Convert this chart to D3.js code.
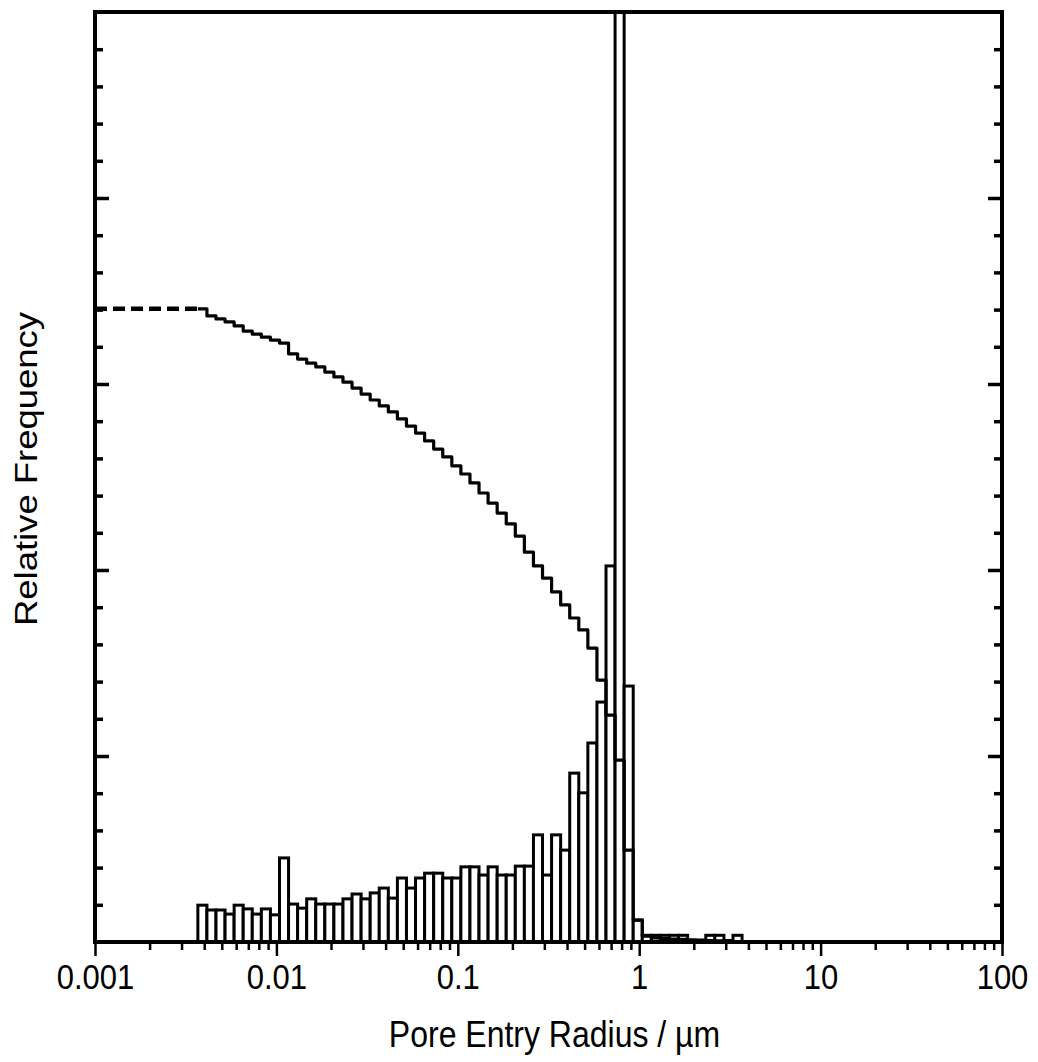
<!DOCTYPE html>
<html>
<head>
<meta charset="utf-8">
<script src="https://cdn.jsdelivr.net/npm/d3@7"></script>
<style>
  html, body { margin: 0; padding: 0; background: #fff; }
  svg { display: block; }
  .tick-label { font-family: "Liberation Sans", Arial, sans-serif; font-size: 31px; fill: #000; }
  .axis-title { font-family: "Liberation Sans", Arial, sans-serif; font-size: 32px; fill: #000; }
</style>
</head>
<body>
<script>
const chartWidth = 1038;
const chartHeight = 1062;

const margin = {
  top: 12,
  right: 36,
  bottom: 120,
  left: 95
};

const plotWidth = chartWidth - margin.left - margin.right;
const plotHeight = chartHeight - margin.top - margin.bottom;

// the scan is a bit taller than wide, text is stretched to match
const textStretch = 1.14;

// histogram bins: log spaced, first bin edge and bins per decade
const firstBinEdge = 0.00369;
const binsPerDecade = 20;

// relative frequency of each bin
const barValues = [
  0.99, 0.86, 0.86, 0.75, 0.99, 0.89, 0.75, 0.89, 0.73, 2.26,
  1.02, 0.91, 1.16, 1.02, 1.02, 1.02, 1.16, 1.29, 1.16, 1.32,
  1.45, 1.18, 1.72, 1.45, 1.72, 1.85, 1.85, 1.72, 1.72, 2.02,
  2.02, 1.80, 2.02, 1.80, 1.80, 2.04, 2.04, 2.88, 1.80, 2.88,
  2.47, 4.54, 4.01, 5.35, 6.45, 10.11, 27.0, 6.88, 0.59, 0.18,
  0.18, 0.18, 0.18, 0.18, 0.04, 0.04, 0.18, 0.18, 0.04, 0.18
];

// cumulative curve at each bin edge
const cumulativeValues = [
  17.02, 16.83, 16.75, 16.67, 16.56, 16.42, 16.34, 16.26, 16.18, 16.10,
  15.81, 15.67, 15.56, 15.46, 15.32, 15.19, 15.05, 14.89, 14.73, 14.57,
  14.41, 14.25, 14.06, 13.87, 13.68, 13.47, 13.25, 13.04, 12.80, 12.58,
  12.34, 12.07, 11.80, 11.53, 11.24, 10.91, 10.48, 10.11, 9.78, 9.41,
  9.06, 8.71, 8.39, 7.90, 7.04, 6.10, 4.89, 2.47, 0.59, 0.16,
  0.11, 0.09, 0.08, 0.07, 0.06, 0.05, 0.04, 0.03, 0.02, 0.01, 0.0
];

const xDomain = [0.001, 100];
const yDomain = [0, 25];
const xTickValues = [0.001, 0.01, 0.1, 1, 10, 100];
const xTickLabels = ['0.001', '0.01', '0.1', '1', '10', '100'];
const yMinorStep = 1;
const yMajorStep = 5;

const xTitle = 'Pore Entry Radius / \u00b5m';
const yTitle = 'Relative Frequency';

const binEdges = d3.range(barValues.length + 1)
  .map(i => firstBinEdge * Math.pow(10, i / binsPerDecade));

const svg = d3.select('body').append('svg')
  .attr('xmlns', 'http://www.w3.org/2000/svg')
  .attr('width', chartWidth)
  .attr('height', chartHeight);

const xScale = d3.scaleLog()
  .domain(xDomain)
  .range([0, plotWidth]);

const yScale = d3.scaleLinear()
  .domain(yDomain)
  .range([plotHeight, 0]);

const container = svg.append('g')
  .attr('transform', `translate(${margin.left},${margin.top})`);

svg.append('defs').append('clipPath')
  .attr('id', 'plot-clip')
  .append('rect')
  .attr('width', plotWidth)
  .attr('height', plotHeight);

// bars
const bars = container.append('g')
  .attr('clip-path', 'url(#plot-clip)');

bars.selectAll('rect')
  .data(barValues)
  .enter().append('rect')
    .attr('x', (d, i) => xScale(binEdges[i]))
    .attr('width', (d, i) => xScale(binEdges[i + 1]) - xScale(binEdges[i]))
    .attr('y', d => yScale(d))
    .attr('height', d => plotHeight - yScale(d))
    .attr('fill', '#fff')
    .attr('stroke', '#000')
    .attr('stroke-width', 3);

// cumulative curve
const curveData = cumulativeValues.map((v, i) => ({ x: binEdges[i], y: v }));

const line = d3.line()
  .x(d => xScale(d.x))
  .y(d => yScale(d.y))
  .curve(d3.curveStepAfter);

container.append('path')
  .attr('d', line(curveData))
  .attr('fill', 'none')
  .attr('stroke', '#000')
  .attr('stroke-width', 3.2)
  .attr('stroke-linejoin', 'round');

container.append('path')
  .attr('d', d3.line().x(d => xScale(d.x)).y(d => yScale(d.y))([
    { x: xDomain[0], y: cumulativeValues[0] },
    { x: binEdges[0], y: cumulativeValues[0] }
  ]))
  .attr('fill', 'none')
  .attr('stroke', '#000')
  .attr('stroke-width', 4.5)
  .attr('stroke-dasharray', '12,6');

// y ticks (inside on both sides, no labels)
const yMinor = d3.range(yDomain[0] + yMinorStep, yDomain[1], yMinorStep).filter(v => v % yMajorStep !== 0);
const yMajor = d3.range(yDomain[0] + yMajorStep, yDomain[1], yMajorStep);

function yTicks(g, axisFn, values, size) {
  g.call(axisFn(yScale).tickValues(values).tickSize(size).tickSizeOuter(0).tickFormat(''))
    .call(s => s.select('.domain').remove())
    .selectAll('line').attr('stroke', '#000').attr('stroke-width', 3.5);
}

container.append('g').call(yTicks, d3.axisRight, yMinor, 8);
container.append('g').call(yTicks, d3.axisRight, yMajor, 14);
container.append('g').attr('transform', `translate(${plotWidth},0)`).call(yTicks, d3.axisLeft, yMinor, 8);
container.append('g').attr('transform', `translate(${plotWidth},0)`).call(yTicks, d3.axisLeft, yMajor, 14);

// x axis: log minor ticks and labelled decades
const xMinor = xScale.ticks().filter(v => xTickValues.indexOf(v) < 0);

const xMinorAxis = container.append('g')
  .attr('transform', `translate(0,${plotHeight})`)
  .call(d3.axisBottom(xScale).tickValues(xMinor).tickSize(8).tickSizeOuter(0).tickFormat(''));
xMinorAxis.select('.domain').remove();
xMinorAxis.selectAll('line').attr('stroke', '#000').attr('stroke-width', 2.5);

const xMajorAxis = container.append('g')
  .attr('transform', `translate(0,${plotHeight})`)
  .call(d3.axisBottom(xScale).tickValues(xTickValues).tickSize(14).tickSizeOuter(0)
    .tickFormat((d, i) => xTickLabels[i]));
xMajorAxis.select('.domain').remove();
xMajorAxis.selectAll('line').attr('stroke', '#000').attr('stroke-width', 2.5);
xMajorAxis.attr('font-size', null).attr('font-family', null);
xMajorAxis.selectAll('text')
  .attr('class', 'tick-label')
  .attr('y', 0)
  .attr('dy', '0.71em')
  .attr('transform', `translate(0,22) scale(1,${textStretch})`)
  .attr('fill', '#000');

// frame
container.append('rect')
  .attr('width', plotWidth)
  .attr('height', plotHeight)
  .attr('fill', 'none')
  .attr('stroke', '#000')
  .attr('stroke-width', 4);

// titles
svg.append('text')
  .attr('class', 'axis-title')
  .attr('transform', `translate(${margin.left + plotWidth / 2 + 6},1047) scale(1,${textStretch})`)
  .attr('text-anchor', 'middle')
  .text(xTitle);

svg.append('text')
  .attr('class', 'axis-title')
  .attr('transform', `translate(37,${margin.top + 457}) rotate(-90) scale(${textStretch},1)`)
  .attr('text-anchor', 'middle')
  .text(yTitle);
</script>
</body>
</html>
